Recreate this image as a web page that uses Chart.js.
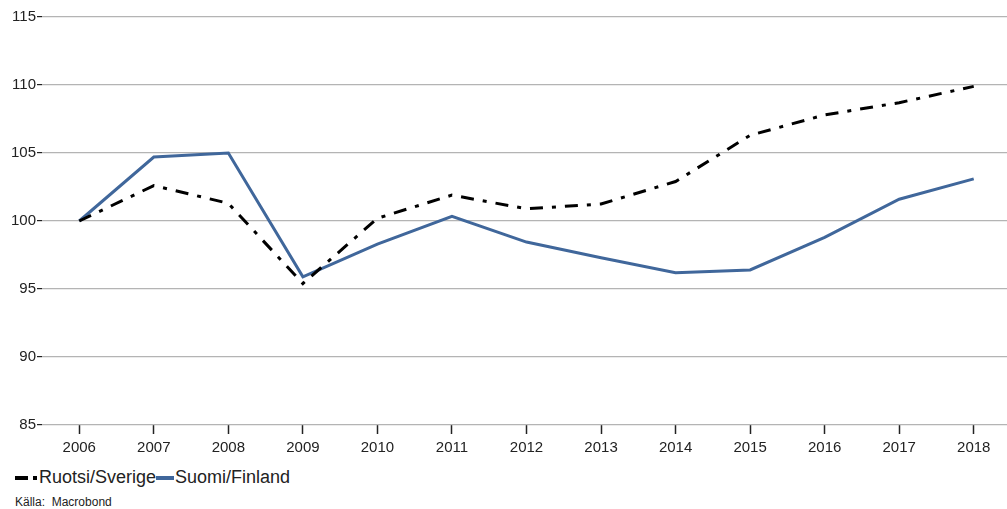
<!DOCTYPE html>
<html>
<head>
<meta charset="utf-8">
<script src="https://cdn.jsdelivr.net/npm/chart.js@4"></script>
<style>
  body { margin: 0; background: #fff; font-family: "Liberation Sans", Arial, sans-serif; overflow: hidden; }
  #wrap { position: relative; width: 1007px; height: 509px; overflow: hidden; }
  #legend { position: absolute; left: 15px; top: 467px; font-size: 18px; color: #222; display: flex; align-items: center; }
  .item { display: flex; align-items: center; }
  #source { position: absolute; left: 15px; top: 495px; font-size: 12px; color: #222; }
</style>
</head>
<body>
<div id="wrap">
  <canvas id="chart" width="1011" height="460" style="width:1011px;height:460px;"></canvas>
  <div id="legend">
    <span class="item">
      <span style="display:inline-block;width:13px;height:4px;background:#000;margin-right:5px"></span>
      <span style="display:inline-block;width:4px;height:4px;background:#000;margin-right:2px"></span>Ruotsi/Sverige
    </span>
    <span class="item">
      <span style="display:inline-block;width:18px;height:4px;background:#40679b;margin-right:1px"></span>Suomi/Finland
    </span>
  </div>
  <div id="source">Källa:&nbsp;&nbsp;<span>Macrobond</span></div>
</div>
<script>
const years = ['2006', '2007', '2008', '2009', '2010', '2011', '2012', '2013', '2014', '2015', '2016', '2017', '2018'];
const sverige = [100, 102.6, 101.3, 95.4, 100.2, 101.9, 100.9, 101.25, 102.9, 106.3, 107.8, 108.7, 109.9];
const finland = [100, 104.7, 105.0, 95.9, 98.3, 100.35, 98.45, 97.3, 96.2, 96.4, 98.8, 101.6, 103.1];
const yMin = 85, yMax = 115, yStep = 5;

const chart = document.querySelector('#chart').getContext('2d');

new Chart(chart, {
    type: 'line',
    data: {
        labels: years,
        datasets: [
            {
                label: 'Ruotsi/Sverige',
                data: sverige,
                borderColor: '#000',
                borderWidth: 3,
                borderDash: [13, 9, 4, 9],
                pointRadius: 0,
                tension: 0
            },
            {
                label: 'Suomi/Finland',
                data: finland,
                borderColor: '#40679b',
                borderWidth: 3,
                pointRadius: 0,
                tension: 0
            }
        ]
    },
    options: {
        responsive: false,
        animation: false,
        layout: { padding: { top: 17, right: 0, left: 0, bottom: 0 } },
        plugins: { legend: { display: false }, tooltip: { enabled: false } },
        scales: {
            x: {
                offset: true,
                border: { display: false },
                grid: { drawOnChartArea: false, tickLength: 9, tickColor: '#222', tickWidth: 1.5 },
                ticks: { color: '#222', font: { family: 'Liberation Sans', size: 15 }, padding: 5, maxRotation: 0 },
                afterFit: (s) => { s.height = 35; }
            },
            y: {
                min: yMin,
                max: yMax,
                border: { display: false },
                grid: { color: '#b4b4b4', lineWidth: 1.2, tickLength: 5, tickColor: '#222' },
                ticks: { stepSize: yStep, color: '#222', font: { family: 'Liberation Sans', size: 15 }, padding: 1 },
                afterFit: (s) => { s.width = 42; }
            }
        }
    }
});
</script>
</body>
</html>
